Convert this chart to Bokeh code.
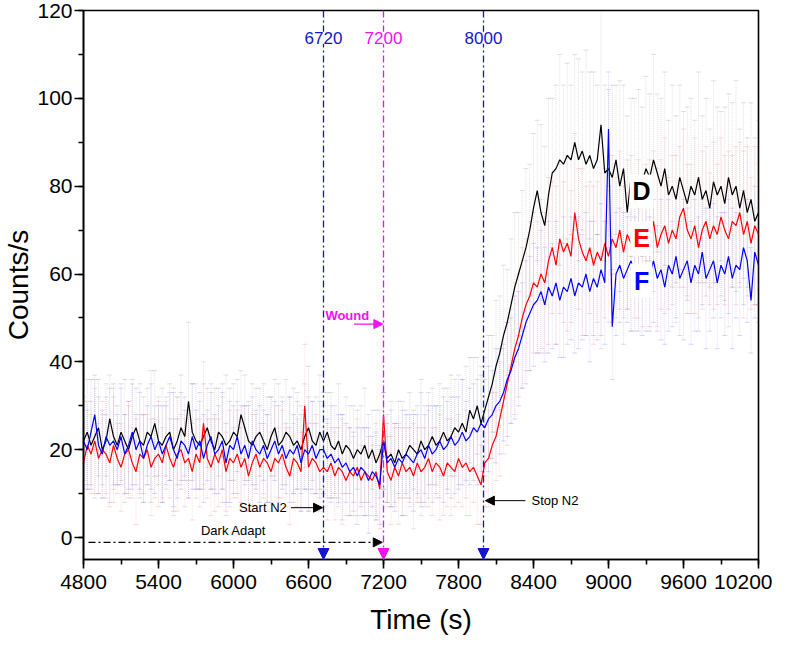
from bokeh.plotting import figure
from bokeh.models import (Range1d, SingleIntervalTicker, Arrow, NormalHead,
                          Label, ColumnDataSource)
from bokeh.embed import file_html
from bokeh.resources import INLINE

# ---------------- data ----------------
t_start = 4800
t_step = 30

D = [22,24,21,23,25,20,22,27,23,21, 24,22,20,23,25,22,21,24,23,26,
     22,21,23,24,20,22,25,23,31,24, 22,21,23,25,22,20,24,23,21,22,
     24,23,28,25,22,21,23,24,22,20, 23,25,21,22,24,23,21,22,20,23,
     25,22,21,24,
     22,24,21,20,22,19,21,20,18,20, 19,21,18,20,17,19,22,
     18,19,17,20,18,19,21,20,19,22, 20,21,23,21,22,24,22,23,25,24,
     26,24,29,27,30,26,
     29,32,35,39,42,46,49,53,57,60, 63,66,70,75,
     79,74,71,78,83,84,86,85,87,86, 90,86,88,85,87,84,86,94,83,84,
     82,86,80,84,74,82,80,79,81,84, 82,86,83,80,84,78,80,77,82,79,
     76,80,78,82,77,79,75,81,78,80, 76,82,78,80,75,79,74,77,72,74]

E = [17,21,19,22,18,20,19,17,21,18, 16,19,20,17,15,19,18,20,16,18,
     19,17,21,18,16,19,20,17,18,15, 19,17,26,18,16,19,17,20,15,18,
     17,19,16,18,14,17,19,16,18,17, 15,18,17,19,16,14,18,17,15,30,
     16,18,17,15,
     16,15,17,14,16,15,13,15,14,16, 13,15,14,13,15,11,28,
     15,13,16,14,17,15,16,14,17,15, 16,18,15,17,16,14,17,16,15,18,
     16,17,15,16,14,12,
     17,18,21,23,27,31,35,39,43,46, 50,53,55,58,
     57,60,58,63,66,62,68,65,67,64, 74,68,65,63,66,62,65,63,67,64,
     68,66,70,65,69,67,66,68,65,70, 67,72,66,69,71,67,70,68,73,75,
     70,68,71,66,70,72,68,71,69,73, 70,68,72,71,74,69,72,67,71,69]

F = [22,20,24,28,21,19,23,21,22,20, 23,19,21,24,20,22,18,21,23,20,
     22,19,21,23,20,18,22,21,19,23, 20,22,18,21,23,19,20,22,17,21,
     20,23,19,21,18,22,20,19,21,18, 20,22,19,21,18,20,19,21,17,20,
     19,21,18,20,
     20,18,19,17,18,16,17,15,16,14, 16,15,13,15,14,12,22,
     17,18,16,18,17,19,18,17,19,20, 18,21,19,20,22,20,21,23,21,22,
     24,22,23,25,24,26,
     25,27,28,30,31,33,36,38,41,43, 46,49,51,53,
     54,56,53,57,55,58,54,57,56,59, 55,58,57,60,56,59,57,61,58,93,
     48,60,62,59,61,63,60,61,58,62, 60,63,59,61,57,62,60,64,59,61,
     63,58,62,60,65,59,61,63,58,62, 60,64,59,62,61,66,63,54,65,62]

D_err = [9,12,10,14,11,8,13,10,12,9, 11,14,10,12,9,13,11,10,15,12,
         10,13,9,11,14,10,12,9,18,11, 13,10,12,9,11,14,10,12,16,9,
         11,13,10,12,9,14,11,10,13,12, 9,11,14,10,12,9,13,11,10,12,
         14,9,11,13,
         11,9,12,10,13,9,11,10,12,9, 11,13,10,9,12,10,11,
         10,12,9,11,13,10,12,9,11,14, 10,12,11,9,13,10,12,14,11,13,
         10,15,12,14,11,13,
         12,14,11,15,13,16,12,15,17,14, 16,18,15,17,
         16,20,18,22,17,19,24,18,21,17, 20,23,18,26,19,22,17,30,20,18,
         21,17,24,19,22,18,20,23,17,21, 19,24,18,20,22,17,23,19,21,18,
         22,20,17,24,19,21,18,23,20,17, 22,19,21,24,18,20,17,22,19,21]

E_err = [8,10,9,12,8,11,9,10,13,8, 10,9,11,8,12,9,10,8,11,9,
         12,8,10,9,11,13,8,10,9,11, 8,10,14,9,11,8,10,12,9,11,
         8,10,9,12,8,11,9,10,8,11, 9,12,8,10,9,11,8,10,9,14,
         10,8,11,9,
         9,11,8,10,9,12,8,10,9,11, 8,10,9,8,11,9,12,
         8,10,9,11,8,10,9,12,8,10, 9,11,10,8,12,9,10,11,8,10,
         9,12,10,8,11,9,
         10,11,12,10,13,12,14,13,15,14, 16,15,17,16,
         15,17,16,19,15,18,17,16,20,15, 18,16,19,17,15,18,16,20,17,15,
         19,16,18,15,17,20,16,18,17,15, 19,16,18,17,20,15,17,19,16,18,
         15,17,20,16,18,17,15,19,16,18, 17,20,15,18,16,19,17,15,18,16]

F_err = [10,9,12,8,11,10,9,13,10,8, 11,9,10,12,8,11,10,9,12,10,
         8,11,9,10,13,9,11,8,10,12, 9,11,10,8,12,9,10,11,9,13,
         10,8,11,9,12,10,9,11,8,10, 12,9,11,10,8,12,9,10,11,9,
         13,10,8,11,
         10,9,11,8,10,12,9,10,8,11, 9,10,12,8,10,9,11,
         9,11,10,8,12,9,10,11,9,13, 10,9,11,10,8,12,10,9,11,10,
         12,9,11,10,12,11,
         11,12,10,13,12,11,13,12,14,13, 12,14,13,14,
         12,14,13,15,12,14,13,16,12,14, 13,15,12,14,16,13,12,15,14,13,
         12,14,13,15,12,16,13,14,12,15, 13,14,12,16,13,15,12,14,13,16,
         12,14,15,13,12,16,14,13,15,12, 14,13,16,12,15,13,14,12,15,13]

series_names = ["D", "E", "F"]
series_colors = ["#000000", "#FF0000", "#0000FF"]
err_colors = ["#666666", "#FF5050", "#4040FF"]

event_times = [6720, 7200, 8000]
event_labels = ["6720", "7200", "8000"]
event_colors = ["#1515CC", "#F010F0", "#1515CC"]

x_ticks_step = 600
y_ticks_step = 20

FONT = "Liberation Sans"

time = [t_start + t_step * i for i in range(len(D))]

# ---------------- figure ----------------
p = figure(width=772, height=641, output_backend="svg", toolbar_location=None,
           x_range=Range1d(4800, 10200), y_range=Range1d(-5, 120),
           min_border_left=69, min_border_right=14, min_border_top=10,
           min_border_bottom=82)
p.xgrid.visible = False
p.ygrid.visible = False
p.outline_line_color = "black"
p.outline_line_width = 1.6
p.background_fill_color = "white"
p.border_fill_color = "white"

for ax in (p.xaxis[0], p.yaxis[0]):
    ax.axis_line_width = 1.6
    ax.major_tick_line_width = 1.6
    ax.minor_tick_line_width = 1.6
    ax.major_tick_in = 0
    ax.major_tick_out = 9
    ax.minor_tick_in = 0
    ax.minor_tick_out = 5
    ax.major_label_text_font = FONT
    ax.major_label_text_font_size = "21px"
    ax.major_label_text_color = "black"
    ax.axis_label_text_font = FONT
    ax.axis_label_text_font_size = "28px"
    ax.axis_label_text_font_style = "normal"
    ax.axis_label_text_color = "black"

p.xaxis.ticker = SingleIntervalTicker(interval=x_ticks_step, num_minor_ticks=2)
p.yaxis.ticker = SingleIntervalTicker(interval=y_ticks_step, num_minor_ticks=2)
p.xaxis.axis_label = "Time (s)"
p.yaxis.axis_label = "Counts/s"
p.xaxis.major_label_standoff = 6
p.yaxis.major_label_standoff = 2
p.xaxis.axis_label_standoff = 12
p.yaxis.axis_label_standoff = 0

series = [D, E, F]
errs = [D_err, E_err, F_err]
sources = []
for vals, er in zip(series, errs):
    sources.append(ColumnDataSource(dict(
        x=time, y=vals,
        lo=[v - e for v, e in zip(vals, er)],
        hi=[v + e for v, e in zip(vals, er)])))

# error bars
for src, ec in zip(sources, err_colors):
    p.segment(x0="x", y0="lo", x1="x", y1="hi", source=src,
              line_color=ec, line_alpha=0.18, line_width=1, line_dash="1 1")
    p.scatter("x", "lo", source=src, marker="dash", size=5,
              line_color=ec, line_alpha=0.2)
    p.scatter("x", "hi", source=src, marker="dash", size=5,
              line_color=ec, line_alpha=0.2)

# data lines
for src, c in zip(sources, series_colors):
    p.line("x", "y", source=src, line_color=c, line_width=1.2)

# event lines with arrowheads
for t, c in zip(event_times, event_colors):
    p.add_layout(Arrow(end=NormalHead(size=11, fill_color=c, line_color=c),
                       x_start=t, y_start=120, x_end=t, y_end=-5,
                       line_color=c, line_width=1.3, line_dash="7 3 2 3"))

# annotations: arrows
p.add_layout(Arrow(end=NormalHead(size=9, fill_color="black", line_color="black"),
                   x_start=6460, y_start=6.8, x_end=6712, y_end=6.8,
                   line_color="black", line_width=1))
p.add_layout(Arrow(end=NormalHead(size=9, fill_color="black", line_color="black"),
                   x_start=8335, y_start=8.4, x_end=8015, y_end=8.4,
                   line_color="black", line_width=1))
p.add_layout(Arrow(end=NormalHead(size=9, fill_color="black", line_color="black"),
                   x_start=4840, y_start=-1.1, x_end=7190, y_end=-1.1,
                   line_color="black", line_width=1.2, line_dash="7 3 2 3"))
p.add_layout(Arrow(end=NormalHead(size=9, fill_color="#F010F0", line_color="#F010F0"),
                   x_start=6965, y_start=48.6, x_end=7195, y_end=48.6,
                   line_color="#F010F0", line_width=1.2))

# event labels
for t, lab, c in zip(event_times, event_labels, event_colors):
    p.add_layout(Label(x=t, y=113.8, text=lab, text_align="center",
                       text_baseline="middle", text_color=c,
                       text_font=FONT, text_font_size="17px",
                       background_fill_color="white"))

p.add_layout(Label(x=6426, y=6.8, text="Start N2", text_align="right",
                   text_baseline="middle", text_font=FONT,
                   text_font_size="13px", text_color="black"))
p.add_layout(Label(x=8384, y=8.4, text="Stop N2", text_align="left",
                   text_baseline="middle", text_font=FONT,
                   text_font_size="13px", text_color="black"))
p.add_layout(Label(x=6000, y=1.6, text="Dark Adapt", text_align="center",
                   text_baseline="middle", text_font=FONT,
                   text_font_size="13px", text_color="black"))
p.add_layout(Label(x=6735, y=50.5, text="Wound", text_align="left",
                   text_baseline="middle", text_font=FONT,
                   text_font_size="13px", text_font_style="bold",
                   text_color="#F010F0"))

# series labels
series_label_y = [78.8, 68.1, 58.5]
for name, c, yy in zip(series_names, series_colors, series_label_y):
    p.add_layout(Label(x=9265, y=yy, text=name, text_align="center",
                       text_baseline="middle", text_color=c,
                       text_font=FONT, text_font_size="25px",
                       text_font_style="bold",
                       background_fill_color="white", padding=3))

open("out.html", "w").write(file_html(p, INLINE))
